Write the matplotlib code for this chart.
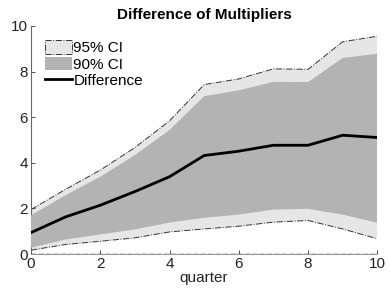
import numpy as np
import matplotlib.pyplot as plt
from matplotlib.patches import Patch
from matplotlib.lines import Line2D

quarter = [0, 1, 2, 3, 4, 5, 6, 7, 8, 9, 10]
diff = [0.94, 1.63, 2.14, 2.74, 3.39, 4.32, 4.51, 4.77, 4.77, 5.21, 5.11]
up95 = [1.95, 2.84, 3.68, 4.67, 5.84, 7.43, 7.68, 8.12, 8.10, 9.31, 9.55]
lo95 = [0.17, 0.42, 0.56, 0.71, 0.97, 1.10, 1.22, 1.40, 1.47, 1.10, 0.67]
up90 = [1.70, 2.58, 3.39, 4.34, 5.44, 6.92, 7.18, 7.55, 7.54, 8.60, 8.78]
lo90 = [0.28, 0.64, 0.86, 1.08, 1.38, 1.59, 1.73, 1.95, 1.98, 1.73, 1.37]

plt.rcParams['font.family'] = 'Liberation Sans'

fig = plt.figure(figsize=(3.9, 2.92), dpi=100)
ax = fig.add_axes([0.0795, 0.130, 0.888, 0.781])

ax.fill_between(quarter, lo95, up95, facecolor='#e6e6e6', edgecolor='none', zorder=1)
ax.plot(quarter, up95, color='#333333', ls='-.', lw=0.7, zorder=2)
ax.plot(quarter, lo95, color='#333333', ls='-.', lw=0.7, zorder=2)
ax.plot([quarter[-1], quarter[-1]], [lo95[-1], up95[-1]], color='#333333', ls='-.', lw=0.7, zorder=2)
ax.fill_between(quarter, lo90, up90, facecolor='#b3b3b3', edgecolor='none', zorder=3)
ax.plot(quarter, diff, color='black', lw=2.0, zorder=4)
ax.axhline(0, color='#333333', ls='--', lw=1.0, zorder=5)

ax.set_xlim(0, 10)
ax.set_ylim(0, 10)
ax.set_xticks([0, 2, 4, 6, 8, 10])
ax.set_yticks([0, 2, 4, 6, 8, 10])
ax.spines['top'].set_visible(False)
ax.spines['right'].set_visible(False)
ax.spines['left'].set_color('#666666')
ax.spines['bottom'].set_color('#999999')
ax.tick_params(direction='in', length=3, width=0.6, color='#333333',
               labelsize=11, labelcolor='#222222', pad=2)
ax.set_xlabel('quarter', fontsize=11, labelpad=0, color='#222222')
ax.set_title('Difference of Multipliers', fontsize=11, fontweight='bold', pad=5)

handles = [Patch(facecolor='#e6e6e6', edgecolor='#333333', linestyle='-.', linewidth=0.7),
           Patch(facecolor='#b3b3b3', edgecolor='none'),
           Line2D([0], [0], color='black', lw=2.0)]
ax.legend(handles, ['95% CI', '90% CI', 'Difference'], loc='upper left',
          frameon=False, fontsize=11, handlelength=1.75, handleheight=1.0,
          handletextpad=0.1, labelspacing=0.1, borderaxespad=0.3,
          bbox_to_anchor=(0.01, 0.985))

fig.savefig('out.png', dpi=100)
